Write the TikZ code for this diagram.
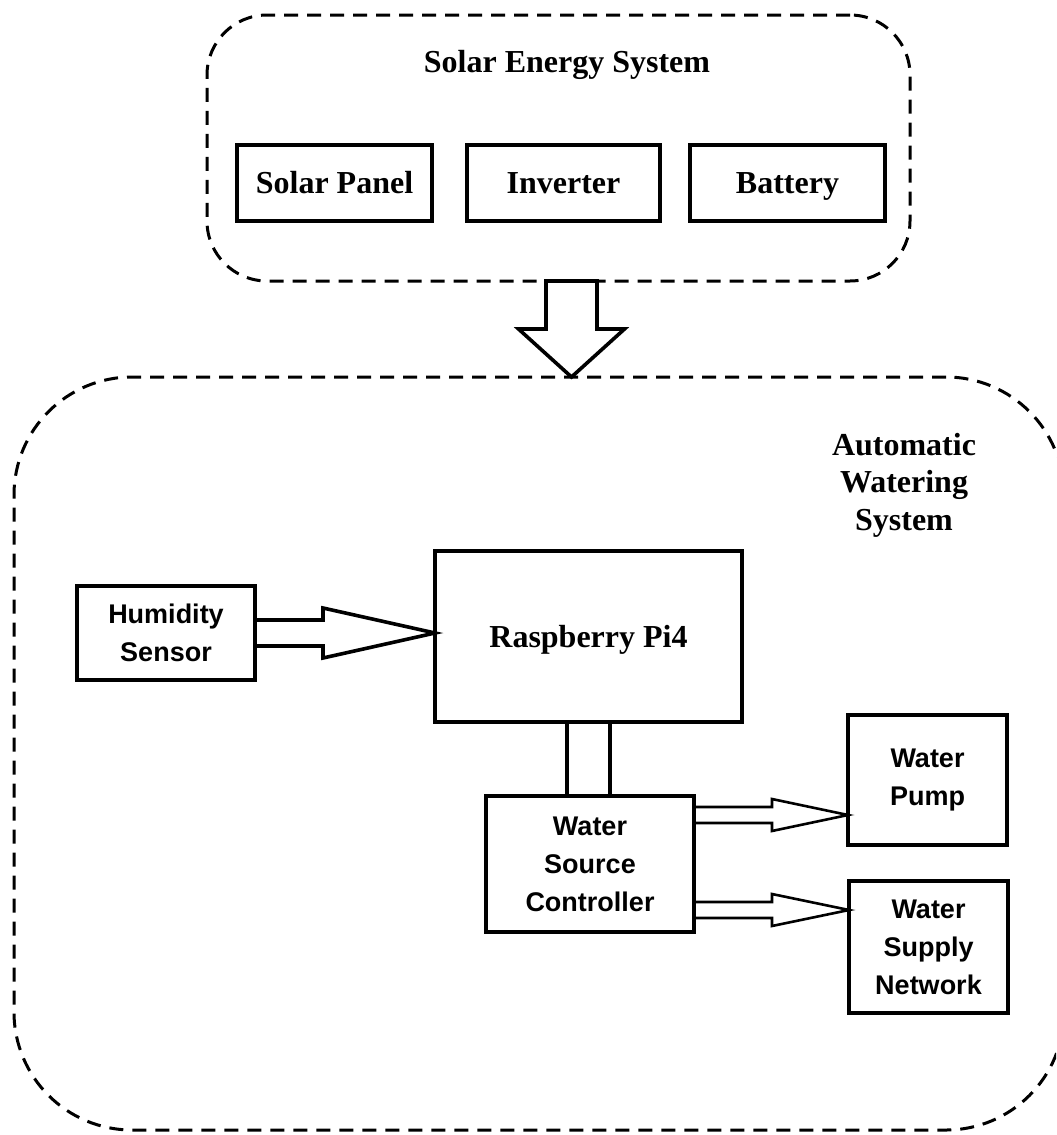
\documentclass[tikz,border=0pt]{standalone}
\usepackage{fontspec}
\setmainfont{Liberation Serif}
\setsansfont{Liberation Sans}
\usetikzlibrary{calc}

\begin{document}
\begin{tikzpicture}[
        x=0.5pt, y=-0.5pt,
        group/.style={draw,line width=1.5pt,outer sep=0pt,dash pattern=on 7pt off 4.5pt},
        unit/.style={draw,line width=2pt,outer sep=0pt,inner sep=0pt,align=center,text height=14pt,text depth=3.4pt,font=\fontsize{16}{19}\selectfont\bfseries},
        part/.style={draw,line width=2pt,outer sep=0pt,inner sep=0pt,align=center,font=\sffamily\fontsize{13.5}{19}\selectfont\bfseries},
        caption/.style={align=center,font=\fontsize{16}{18.75}\selectfont\bfseries},
        hollow/.style={draw,line width=1.8pt,line join=miter},
        thinhollow/.style={hollow,line width=1.3pt},
        link/.style={line width=2pt}
    ]
        \useasboundingbox (0,0) rectangle (1056,1135);
        \clip (0,0) rectangle (1056,1135);

        % solar energy part
        \node[group,rounded corners=30pt,minimum width=351.5pt,minimum height=133pt] (solar) at (558.5,148) {};
        \node[caption] (solartitle) at (567,65) {Solar Energy System};
        \node[unit,minimum width=97.5pt,minimum height=38pt] (panel) at (334.5,183) {Solar Panel};
        \node[unit,minimum width=96.5pt,minimum height=38pt] (inverter) at (563.5,183) {Inverter};
        \node[unit,minimum width=97.5pt,minimum height=38pt] (battery) at (787.5,183) {Battery};

        % watering part
        \node[group,rounded corners=59pt,minimum width=525pt,minimum height=376.5pt] (water) at (539,753.5) {};
        \node[caption] (watertitle) at (904,485) {Automatic\\Watering\\System};
        \node[part,minimum width=89pt,minimum height=47pt] (hum) at (166,633) {Humidity\\Sensor};
        \node[unit,minimum width=153.5pt,minimum height=85.5pt] (pi) at (588.5,636.5) {Raspberry Pi4};
        \node[part,minimum width=104pt,minimum height=68pt] (ctrl) at (590,864) {Water\\Source\\Controller};
        \node[part,minimum width=79.5pt,minimum height=65pt] (pump) at (927.5,780) {Water\\Pump};
        \node[part,minimum width=79.5pt,minimum height=66pt] (supply) at (928.5,947) {Water\\Supply\\Network};

        % fat arrow between the two parts
        \coordinate (dn) at ($(solar.south)+(13,0)$);
        \coordinate (tip) at (dn |- water.north);
        \draw[hollow] (dn) ++(-25.5,0) -- ++(0,48) -- ++(-27.5,0) -- (tip)
            -- ++(53,-48) -- ++(-27.5,0) -- ++(0,-48) -- cycle;

        % fat arrows inside the watering part
        \coordinate (c1) at ($(ctrl.east)+(0,-49)$);
        \coordinate (c2) at ($(ctrl.east)+(0,46)$);
        \draw[hollow] (hum.east) ++(0,-13) -- ++(68,0) -- ++(0,-12) -- (pi.west |- hum.east)
            -- ++(-112,25) -- ++(0,-12) -- ++(-68,0);
        \draw[thinhollow] (c1) ++(0,-8) -- ++(78,0) -- ++(0,-8) -- (pump.west |- c1)
            -- ++(-76,16) -- ++(0,-8) -- ++(-78,0);
        \draw[thinhollow] (c2) ++(0,-8) -- ++(78,0) -- ++(0,-8) -- (supply.west |- c2)
            -- ++(-77,16) -- ++(0,-8) -- ++(-78,0);

        % bus between pi and controller
        \coordinate (l1) at ($(pi.south)+(-22,0)$);
        \coordinate (l2) at ($(pi.south)+(21.5,0)$);
        \draw[link] (l1) -- (l1 |- ctrl.north);
        \draw[link] (l2) -- (l2 |- ctrl.north);
    \end{tikzpicture}
\end{document}
